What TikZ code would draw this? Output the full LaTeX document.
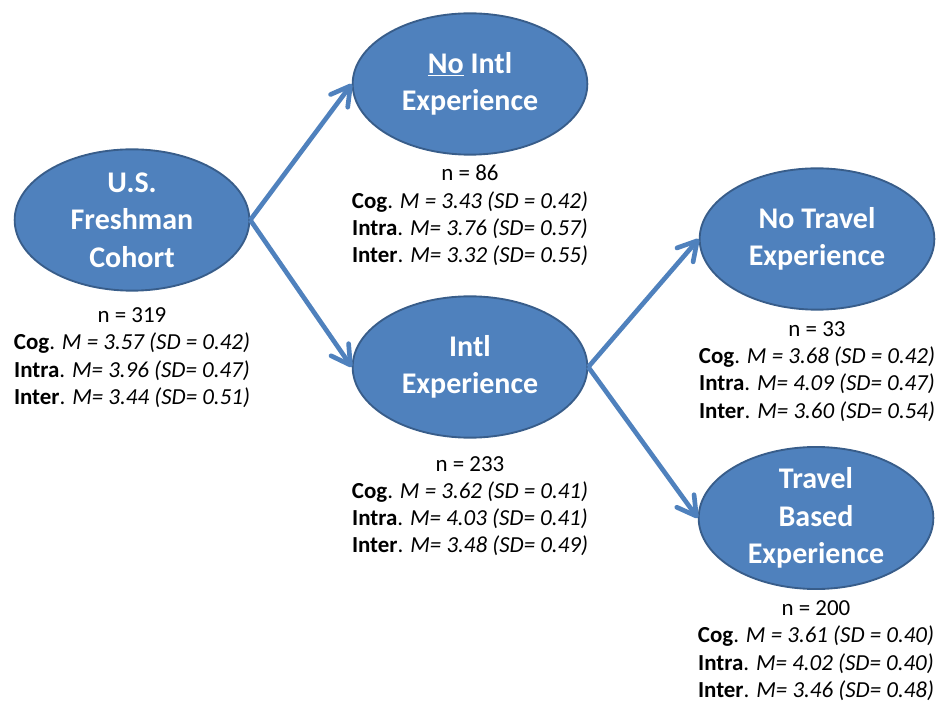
\documentclass[tikz,border=0pt]{standalone}
\usepackage{fontspec}
\setmainfont{Carlito}
\usetikzlibrary{arrows.meta}
\usetikzlibrary{shapes.geometric}
\usetikzlibrary{positioning}
\definecolor{groupblue}{HTML}{4F81BD}
\definecolor{groupedge}{HTML}{385D8A}
\tikzset{sample/.style = {ellipse, draw=groupedge, line width=1.4pt, fill=groupblue,
                          text=white, inner sep=0pt, align=center,
                          minimum width=176pt, minimum height=106pt,
                          font=\fontsize{22.5}{28}\selectfont\bfseries},
         stats/.style = {inner sep=0pt, align=center,
                         font=\fontsize{17.2}{20.4}\selectfont},
         link/.style = {draw=groupblue, line width=3.5pt,
                        -{Straight Barb[length=14pt,width=16pt,round]}}}

\begin{document}
\begin{tikzpicture}[x=0.75pt, y=-0.75pt]
      \useasboundingbox (0, 0) rectangle (937, 705);

      \node [sample] (cohort)   at (132, 220) {U.S.\\Freshman\\Cohort};
      \node [sample] (nointl)   at (470, 84)  {\underline{No} Intl\\Experience};
      \node [sample] (intl)     at (470, 367) {Intl\\Experience};
      \node [sample] (notravel) at (817, 239) {No Travel\\Experience};
      \node [sample] (travel)   at (816, 518) {Travel\\Based\\Experience};

      \node [stats, below=12pt of cohort] (cohortstats)
            {n = 319\\\textbf{Cog}. \textit{M = 3.57 (SD = 0.42)}\\
             \textbf{Intra}. \textit{M= 3.96 (SD= 0.47)}\\\textbf{Inter}. \textit{M= 3.44 (SD= 0.51)}};
      \node [stats, below=7pt of nointl] (nointlstats)
            {n = 86\\\textbf{Cog}. \textit{M = 3.43 (SD = 0.42)}\\
             \textbf{Intra}. \textit{M= 3.76 (SD= 0.57)}\\\textbf{Inter}. \textit{M= 3.32 (SD= 0.55)}};
      \node [stats, below=13pt of intl] (intlstats)
            {n = 233\\\textbf{Cog}. \textit{M = 3.62 (SD = 0.41)}\\
             \textbf{Intra}. \textit{M= 4.03 (SD= 0.41)}\\\textbf{Inter}. \textit{M= 3.48 (SD= 0.49)}};
      \node [stats, below=8pt of notravel] (notravelstats)
            {n = 33\\\textbf{Cog}. \textit{M = 3.68 (SD = 0.42)}\\
             \textbf{Intra}. \textit{M= 4.09 (SD= 0.47)}\\\textbf{Inter}. \textit{M= 3.60 (SD= 0.54)}};
      \node [stats, below=8pt of travel] (travelstats)
            {n = 200\\\textbf{Cog}. \textit{M = 3.61 (SD = 0.40)}\\
             \textbf{Intra}. \textit{M= 4.02 (SD= 0.40)}\\\textbf{Inter}. \textit{M= 3.46 (SD= 0.48)}};

      \draw [link] (cohort.east) -- (nointl.west);
      \draw [link] (cohort.east) -- (intl.west);
      \draw [link] (intl.east) -- (notravel.west);
      \draw [link] (intl.east) -- (travel.west);
    \end{tikzpicture}
\end{document}
